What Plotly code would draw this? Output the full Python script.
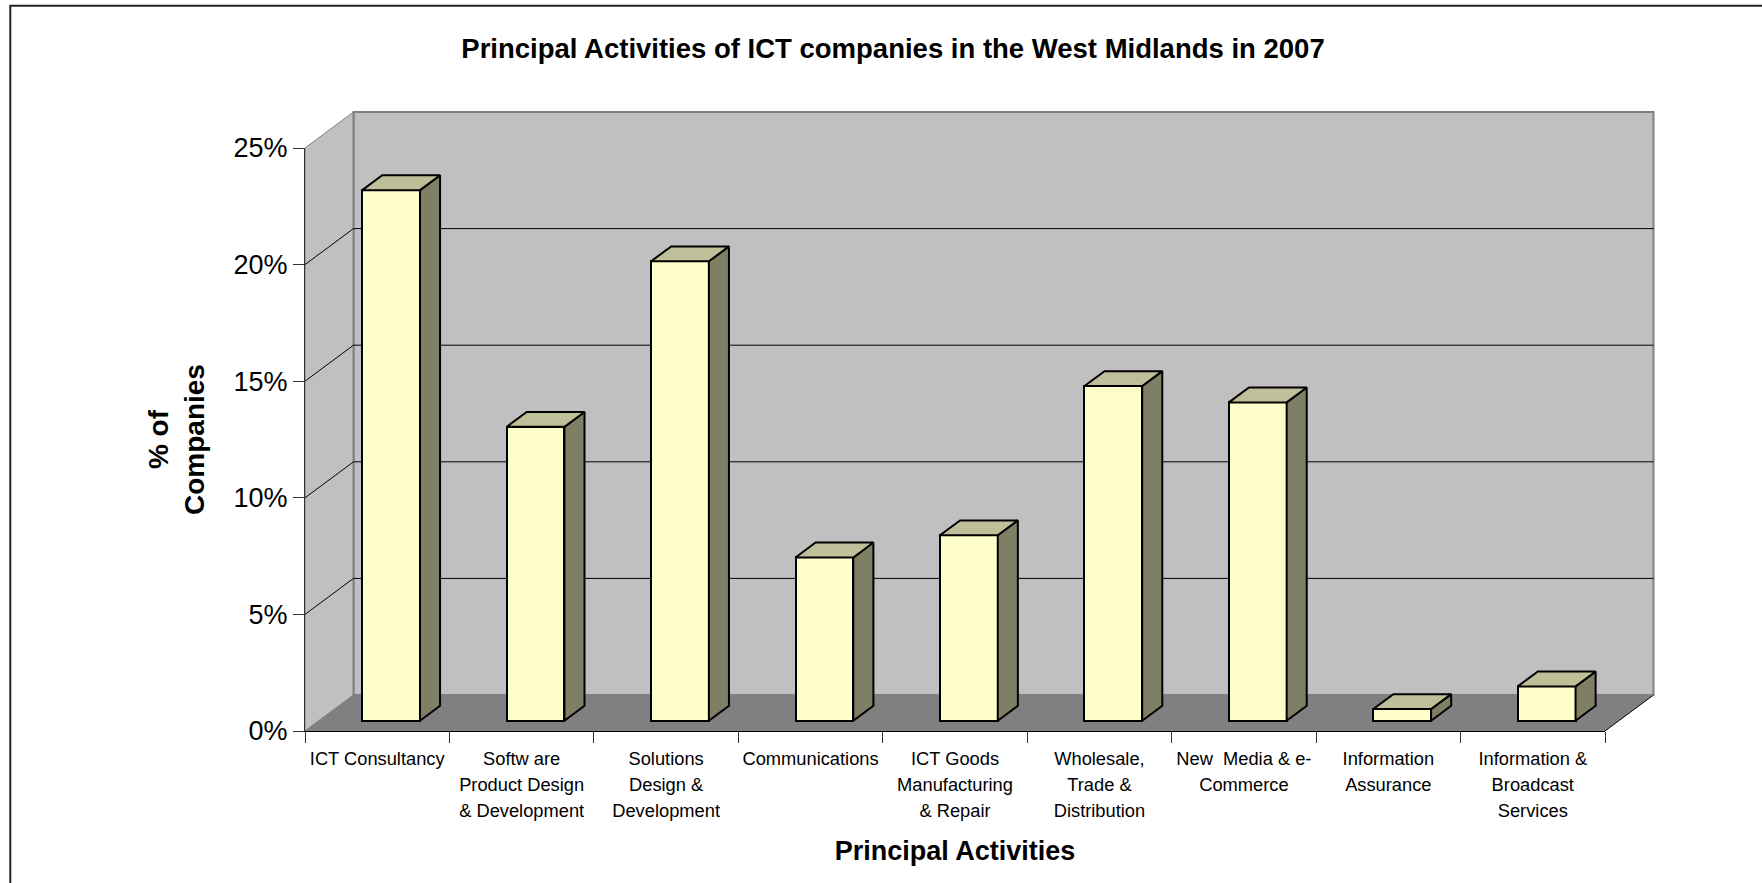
import plotly.graph_objects as go

categories = [
    ["ICT Consultancy"],
    ["Softw are", "Product Design", "& Development"],
    ["Solutions", "Design &", "Development"],
    ["Communications"],
    ["ICT Goods", "Manufacturing", "& Repair"],
    ["Wholesale,", "Trade &", "Distribution"],
    ["New  Media & e-", "Commerce"],
    ["Information", "Assurance"],
    ["Information &", "Broadcast", "Services"],
]
values = [22.75, 12.6, 19.7, 7.0, 7.95, 14.35, 13.65, 0.5, 1.47]
y_ticks = [0, 5, 10, 15, 20, 25]

FONT = "Liberation Sans"
W, H = 1762, 883
L, R, T, B = 304.7, 1604.7, 148.3, 731.3
n = len(values)
ux = (R - L) / n
uy = (B - T) / 25
DX, DY = 48.5 / ux, 36 / uy          # full depth of the chart floor in data units
BAR_W = 0.4
D0, D1 = 0.286, 0.70                 # depth fractions of bar front / back


def polys(face):
    xs, ys = [], []
    for i, v in enumerate(values):
        x0 = i + 0.5 - BAR_W / 2 + D0 * DX
        x1 = x0 + BAR_W
        y0 = D0 * DY
        y1 = y0 + v
        d = (D1 - D0)
        if face == "side":
            px = [x1, x1 + d * DX, x1 + d * DX, x1, x1]
            py = [y0, y0 + d * DY, y1 + d * DY, y1, y0]
        else:
            px = [x0, x1, x1 + d * DX, x0 + d * DX, x0]
            py = [y1, y1, y1 + d * DY, y1 + d * DY, y1]
        xs += px + [None]
        ys += py + [None]
    return xs, ys


fig = go.Figure()

fig.add_trace(go.Bar(
    x=[i + 0.5 + D0 * DX for i in range(n)],
    y=values,
    base=D0 * DY,
    width=BAR_W,
    marker=dict(color="#FFFFCC", line=dict(color="black", width=2)),
    cliponaxis=False,
    showlegend=False,
    hoverinfo="skip",
))
for face, color in (("side", "#7F7F66"), ("top", "#BFBF99")):
    xs, ys = polys(face)
    fig.add_trace(go.Scatter(
        x=xs, y=ys, mode="lines", fill="toself", fillcolor=color,
        line=dict(color="black", width=2, simplify=False),
        cliponaxis=False, showlegend=False, hoverinfo="skip",
    ))

shapes = []


def to_paper(x, y):
    # shapes on data axes are clipped to the plot area, the 3-D walls extend past it
    return x / n, y / 25


def poly_shape(pts, fill, line_color=None, width=0):
    path = "M " + " L ".join("{},{}".format(*to_paper(x, y)) for x, y in pts) + " Z"
    shapes.append(dict(type="path", xref="paper", yref="paper", path=path, fillcolor=fill,
                       layer="below",
                       line=dict(color=line_color or "rgba(0,0,0,0)", width=width)))


def seg(x0, y0, x1, y1, color, width):
    a, b = to_paper(x0, y0)
    c, d = to_paper(x1, y1)
    shapes.append(dict(type="line", xref="paper", yref="paper", x0=a, y0=b, x1=c, y1=d,
                       layer="below", line=dict(color=color, width=width)))


# back wall, side wall, floor
poly_shape([(DX, DY), (n + DX, DY), (n + DX, 25 + DY), (DX, 25 + DY)], "#C0C0C0", "#808080", 2)
poly_shape([(0, 0), (DX, DY), (DX, 25 + DY), (0, 25)], "#C0C0C0", "#808080", 1)
poly_shape([(0, 0), (n, 0), (n + DX, DY), (DX, DY)], "#808080")
seg(DX, 25 + DY, DX, DY, "#808080", 2)
seg(n, 0, n + DX, DY, "black", 1)
seg(0, 0, DX, DY, "#808080", 1)
seg(DX, DY, n + DX, DY, "#808080", 1)
for v in y_ticks[1:-1]:
    seg(0, v, DX, v + DY, "black", 1)
    seg(DX, v + DY, n + DX, v + DY, "black", 1)

# outer chart frame
shapes.append(dict(type="rect", xref="paper", yref="paper",
                   x0=(10 - L) / (R - L), x1=(W + 5 - L) / (R - L),
                   y0=(B - (H + 5)) / (B - T), y1=(B - 6) / (B - T),
                   layer="below", line=dict(color="#222222", width=2)))

SMALL = 18.3
ticktext = ["<br>".join(f'<span style="font-size:{SMALL}px">{s}</span>' for s in c)
            for c in categories]

fig.update_layout(
    width=W, height=H,
    autosize=False,
    margin=dict(l=L, r=W - R, t=T, b=H - B, pad=0, autoexpand=False),
    paper_bgcolor="white",
    plot_bgcolor="rgba(0,0,0,0)",
    font=dict(family=FONT, color="black"),
    title=dict(
        text="<b>Principal Activities of ICT companies in the West Midlands in 2007</b>",
        x=893 / W, xanchor="center", xref="container",
        y=1 - 48 / H, yanchor="middle", yref="container",
        font=dict(family=FONT, size=27.5, color="black"),
    ),
    shapes=shapes,
    bargap=0,
    showlegend=False,
    xaxis=dict(
        type="linear", range=[0, n],
        tickmode="array",
        tickvals=[i + 0.5 for i in range(n)],
        ticktext=ticktext,
        tickangle=0,
        ticks="outside", ticklen=9, tickcolor="rgba(0,0,0,0)",
        tickfont=dict(family=FONT, size=20, color="black"),
        minor=dict(tickmode="array", tickvals=list(range(n + 1)), ticks="outside",
                   ticklen=11, tickwidth=1, tickcolor="#333333", showgrid=False),
        showgrid=False, zeroline=False,
        showline=True, linecolor="black", linewidth=1,
        title=dict(text="<b>Principal Activities</b>", standoff=21,
                   font=dict(family=FONT, size=27, color="black")),
    ),
    yaxis=dict(
        type="linear", range=[0, 25],
        tickmode="array",
        tickvals=y_ticks,
        ticktext=[f"{v}%" for v in y_ticks],
        ticks="outside", ticklen=11, tickwidth=1, tickcolor="#333333",
        tickfont=dict(family=FONT, size=27, color="black"),
        showgrid=False, zeroline=False,
        showline=True, linecolor="#333333", linewidth=1,
        title=dict(text="<b>% of<br>Companies</b>", standoff=20,
                   font=dict(family=FONT, size=28, color="black")),
    ),
)

fig.write_html("out.html", config=dict(displayModeBar=False),
               post_script="document.body.style.margin='0';")
